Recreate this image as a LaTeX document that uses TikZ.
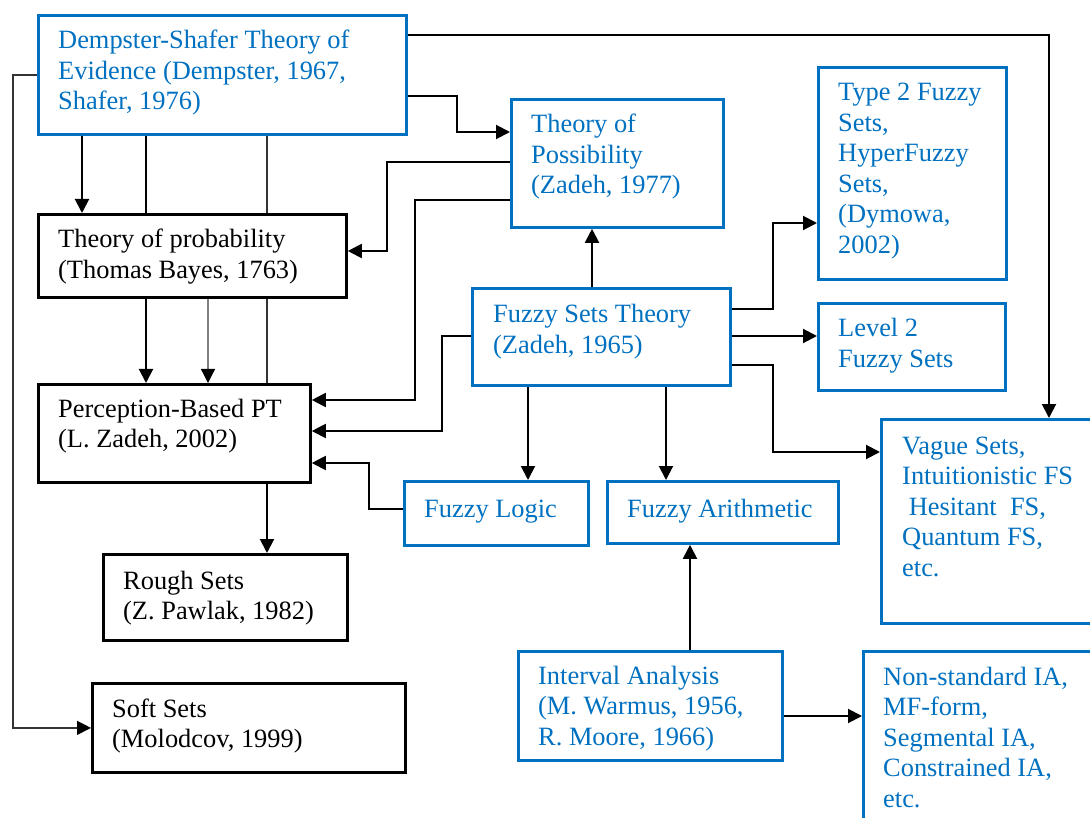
\documentclass[tikz,border=0pt]{standalone}
\usepackage{fontspec}
\setmainfont{Liberation Serif}
\usetikzlibrary{arrows.meta}
\definecolor{boxblue}{RGB}{0,112,192}
\tikzset{
  box/.style={draw, line width=2.8pt, inner sep=0pt, anchor=north west},
  bluebox/.style={box, draw=boxblue},
  blackbox/.style={box, draw=black},
  txt/.style={inner sep=0pt, anchor=base west, font=\fontsize{26.4}{30.5}\selectfont},
  bluetxt/.style={txt, text=boxblue},
  link/.style={line width=2pt, draw=black},
  thinlink/.style={line width=1.3pt, draw=black!80},
  tip/.style={-{Triangle[length=14pt,width=14pt,color=black]}},
  arr/.style={link, tip},
}
% stacked lines with a fixed baseline distance; the baseline of the block is the first line
\newcommand\stack[1]{\vtop{\baselineskip=30.5pt\lineskiplimit=-100pt\lineskip=0pt #1}}
\begin{document}
\begin{tikzpicture}[x=1pt, y=-1pt]
\useasboundingbox (0,0) rectangle (1090,818);
\clip (0,0) rectangle (1090,818);

% ---------- boxes ----------
\node[bluebox,  minimum width=368pt, minimum height=119pt] (ds)       at (37,14)  {};
\node[bluebox,  minimum width=212pt, minimum height=128pt] (poss)     at (510,98) {};
\node[bluebox,  minimum width=188pt, minimum height=212pt] (type2)    at (817,66) {};
\node[blackbox, minimum width=308pt, minimum height=83pt]  (prob)     at (37,213) {};
\node[bluebox,  minimum width=258pt, minimum height=97pt]  (fst)      at (471,287) {};
\node[bluebox,  minimum width=187pt, minimum height=87pt]  (lvl2)     at (817,302) {};
\node[blackbox, minimum width=272pt, minimum height=98pt]  (perc)     at (37,383) {};
\node[bluebox,  minimum width=230pt, minimum height=204pt] (vague)    at (880,418) {};
\node[bluebox,  minimum width=184pt, minimum height=64pt]  (logic)    at (403,480) {};
\node[bluebox,  minimum width=231pt, minimum height=62pt]  (arith)    at (606,480) {};
\node[blackbox, minimum width=244pt, minimum height=86pt]  (rough)    at (102,553) {};
\node[blackbox, minimum width=313pt, minimum height=89pt]  (soft)     at (91,682) {};
\node[bluebox,  minimum width=264pt, minimum height=109pt] (interval) at (517,650) {};
\node[bluebox,  minimum width=248pt, minimum height=190pt] (nonstd)   at (862,650) {};

% ---------- texts ----------
\node[bluetxt] (ds-t) at (58,49) {\stack{\hbox{Dempster-Shafer Theory of}\hbox{Evidence (Dempster, 1967,}\hbox{Shafer, 1976)}}};
\node[bluetxt] (poss-t) at (531,133) {\stack{\hbox{Theory of}\hbox{Possibility}\hbox{(Zadeh, 1977)}}};
\node[bluetxt] (type2-t) at (838,101) {\stack{\hbox{Type 2 Fuzzy}\hbox{Sets,}\hbox{HyperFuzzy}\hbox{Sets,}\hbox{(Dymowa,}\hbox{2002)}}};
\node[txt] (prob-t) at (58,248) {\stack{\hbox{Theory of probability}\hbox{(Thomas Bayes, 1763)}}};
\node[bluetxt] (fst-t) at (493,323) {\stack{\hbox{Fuzzy Sets Theory}\hbox{(Zadeh, 1965)}}};
\node[bluetxt] (lvl2-t) at (838,337) {\stack{\hbox{Level 2}\hbox{Fuzzy Sets}}};
\node[txt] (perc-t) at (58,417) {\stack{\hbox{Perception-Based PT}\hbox{(L. Zadeh, 2002)}}};
\node[bluetxt] (vague-t) at (902,454) {\stack{\hbox{Vague Sets,}\hbox{Intuitionistic FS}\hbox{\ Hesitant\ \ FS,}\hbox{Quantum FS,}\hbox{etc.}}};
\node[bluetxt] (logic-t) at (424,517) {Fuzzy Logic};
\node[bluetxt] (arith-t) at (627,517) {Fuzzy Arithmetic};
\node[txt] (rough-t) at (123,589) {\stack{\hbox{Rough Sets}\hbox{(Z. Pawlak, 1982)}}};
\node[txt] (soft-t) at (112,717) {\stack{\hbox{Soft Sets}\hbox{(Molodcov, 1999)}}};
\node[bluetxt] (interval-t) at (538,684) {\stack{\hbox{Interval Analysis}\hbox{(M. Warmus, 1956,}\hbox{R. Moore, 1966)}}};
\node[bluetxt] (nonstd-t) at (883,685) {\stack{\hbox{Non-standard IA,}\hbox{MF-form,}\hbox{Segmental IA,}\hbox{Constrained IA,}\hbox{etc.}}};

% ---------- connectors ----------
% Dempster-Shafer downwards
\draw[arr] (82,0 |- ds.south) -- (82,0 |- prob.north);
\draw[link] (146,0 |- ds.south) -- (146,0 |- prob.north);
\draw[thinlink] (267,0 |- ds.south) -- (267,0 |- prob.north);
% probability to perception
\draw[arr] (146,0 |- prob.south) -- (146,0 |- perc.north);
\draw[thinlink, draw=black!50, tip] (208,0 |- prob.south) -- (208,0 |- perc.north);
\draw[thinlink] (267,0 |- prob.south) -- (267,0 |- perc.north);
% perception to rough sets
\draw[arr] (267,0 |- perc.south) -- (267,0 |- rough.north);
% Dempster-Shafer to soft sets
\draw[thinlink, tip] (ds.west) -- (13,0 |- ds.west) -- (13,0 |- soft.west) -- (soft.west);
% Dempster-Shafer to possibility and to vague sets
\draw[arr] (ds.east |- 0,96) -- (457,96) -- (457,132) -- (poss.west |- 0,132);
\draw[arr] (ds.east |- 0,35) -- (1049,35) -- (1049,0 |- vague.north);
% possibility to the left
\draw[arr] (poss.west |- 0,162) -- (387,162) -- (387,251) -- (prob.east |- 0,251);
\draw[arr] (poss.west |- 0,200) -- (415,200) -- (415,400) -- (perc.east |- 0,400);
% fuzzy sets theory and fuzzy logic to perception
\draw[arr] (fst.west |- 0,336) -- (442,336) -- (442,431) -- (perc.east |- 0,431);
\draw[arr] (logic.west |- 0,509) -- (369,509) -- (369,463) -- (perc.east |- 0,463);
% fuzzy sets theory outwards
\draw[arr] (592,0 |- fst.north) -- (592,0 |- poss.south);
\draw[arr] (fst.east |- 0,309) -- (773,309) -- (773,223) -- (type2.west |- 0,223);
\draw[arr] (fst.east |- 0,336) -- (lvl2.west |- 0,336);
\draw[arr] (fst.east |- 0,365) -- (773,365) -- (773,452) -- (vague.west |- 0,452);
\draw[arr] (528,0 |- fst.south) -- (528,0 |- logic.north);
\draw[arr] (666,0 |- fst.south) -- (666,0 |- arith.north);
% interval analysis
\draw[arr] (690,0 |- interval.north) -- (690,0 |- arith.south);
\draw[arr] (interval.east |- 0,716) -- (nonstd.west |- 0,716);
\end{tikzpicture}
\end{document}
